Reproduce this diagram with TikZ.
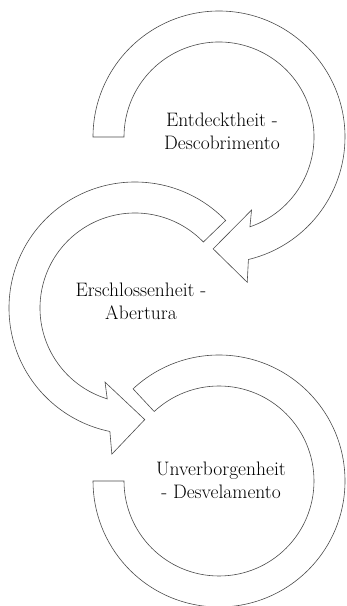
\documentclass[tikz,border=0pt]{standalone}
\usepackage{tikz}
\usetikzlibrary{positioning}

\begin{document}
\begin{tikzpicture}[
  x=1pt, y=1pt,
  band/.style={draw=black!70, fill=white, line width=0.6pt, line join=miter},
  cyclelabel/.style={align=center, inner sep=0pt, font=\fontsize{19.5}{23}\selectfont}
]
\useasboundingbox (0,0) rectangle (346,606);

% Arrow 1
\begin{scope}[shift={(219,469)}]
\draw[band] (180:126) arc[start angle=180, end angle=-76.5, radius=126]
  -- (-79:148) -- (-93:112) -- (-66:80) -- (-71:95)
  arc[start angle=-71, end angle=180, radius=95] -- cycle;
\end{scope}

% Arrow 2
\begin{scope}[shift={(135,298)}]
\draw[band] (44:126) arc[start angle=44, end angle=258.5, radius=126]
  -- (261:148) -- (275:112) -- (248:80) -- (253:95)
  arc[start angle=253, end angle=44, radius=95] -- cycle;
\end{scope}

% Arc 3
\begin{scope}[shift={(219,125)}]
\draw[band] (133:126) arc[start angle=133, end angle=-180, radius=126]
  -- (-180:95) arc[start angle=-180, end angle=133, radius=95] -- cycle;
\end{scope}

\node[cyclelabel] (entd) at (222,475) {Entdecktheit -\\Descobrimento};
\node[cyclelabel] (ersch) at (141,305) {Erschlossenheit -\\Abertura};
\node[cyclelabel] (unverb) at (221,126) {Unverborgenheit\\- Desvelamento};
\end{tikzpicture}
\end{document}
